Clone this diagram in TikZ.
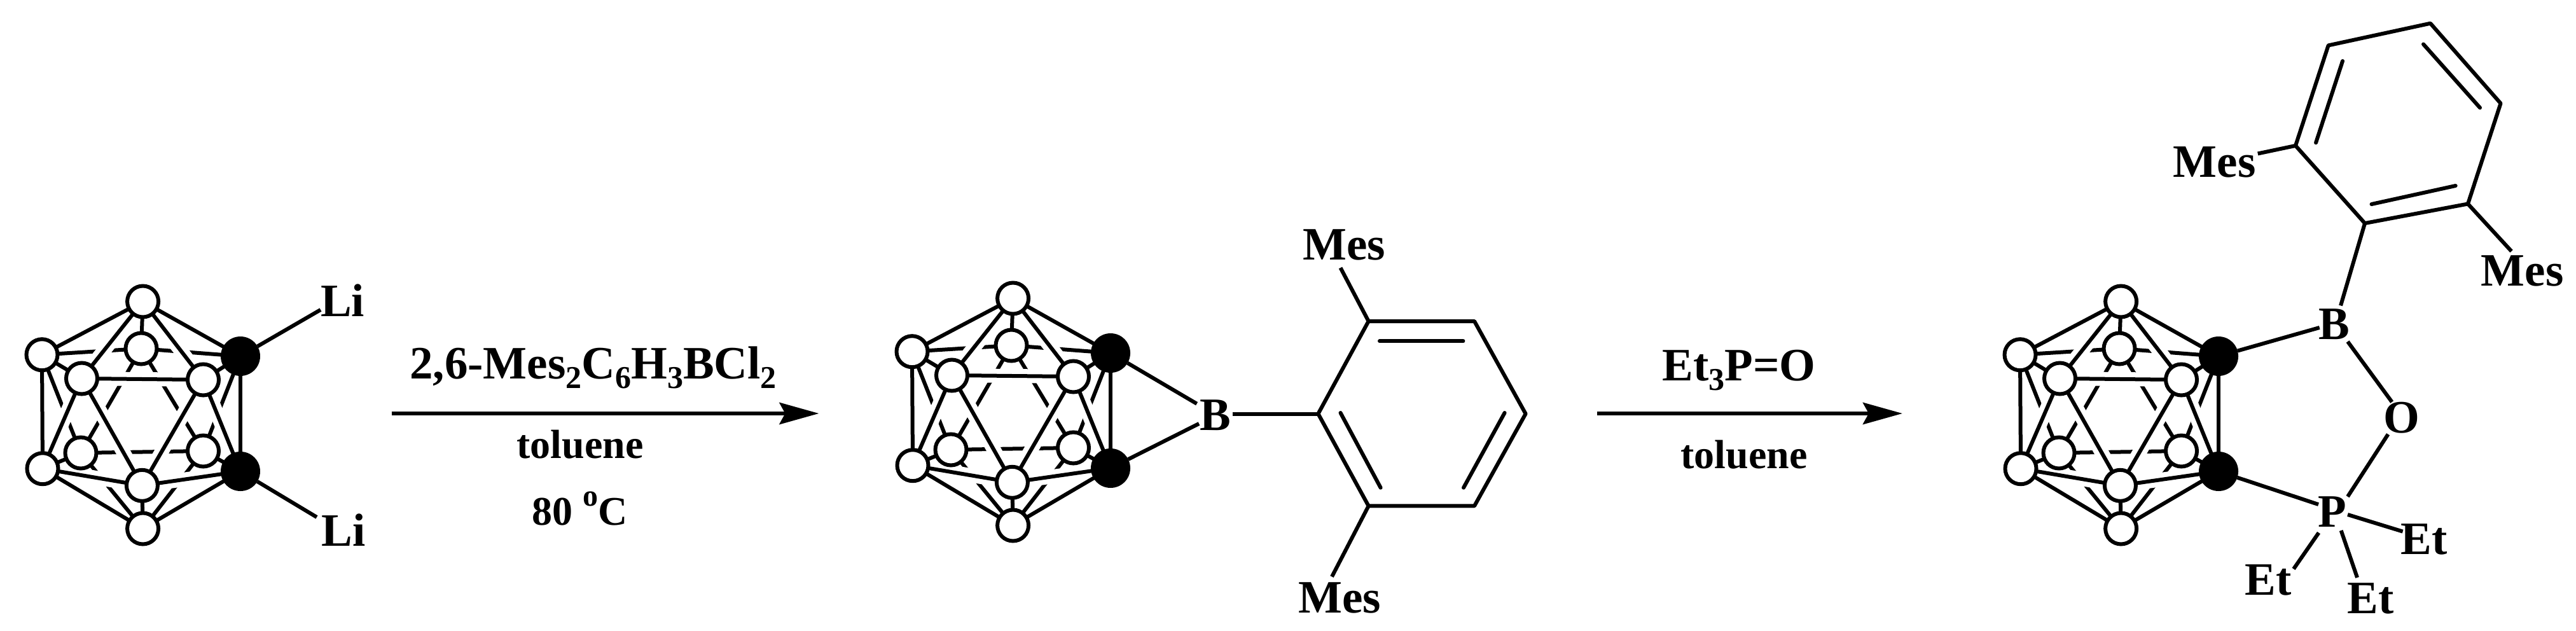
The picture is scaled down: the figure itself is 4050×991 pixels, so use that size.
\documentclass[tikz,border=0pt]{standalone}
\usepackage{fontspec}
\setmainfont{Liberation Serif}
\usetikzlibrary{arrows.meta}
\newcommand{\subnum}[1]{\raisebox{-7.5pt}{\fontsize{25}{28}\selectfont #1}}
\newcommand{\cagemol}[3]{%
\begin{scope}[shift={(#2,#3)}]
 \coordinate (#1-Tc) at (224.6,474);
 \coordinate (#1-LUc) at (66,557.7);
 \coordinate (#1-LLc) at (67,736.7);
 \coordinate (#1-Boc) at (224.6,831);
 \coordinate (#1-UBc) at (378,560);
 \coordinate (#1-LBc) at (378,741);
 \coordinate (#1-FLc) at (128.5,595);
 \coordinate (#1-FRc) at (319.5,597);
 \coordinate (#1-FBc) at (223.4,763.3);
 \coordinate (#1-BTc) at (222,548);
 \coordinate (#1-BLc) at (127,712);
 \coordinate (#1-BRc) at (319.5,709);
 % bonds at the back, cut by the halo of those in front
 \foreach \a/\b in {Tc/BTc,LUc/BTc,UBc/BTc,BTc/BLc,BTc/BRc,BLc/BRc,LUc/BLc,LLc/BLc,Boc/BLc,Boc/BRc,UBc/BRc,LBc/BRc}
   \draw[bondline] (#1-\a) -- (#1-\b);
 \foreach \a/\b in {Tc/FLc,Tc/FRc,LUc/FLc,LLc/FLc,FLc/FRc,FLc/FBc,FRc/FBc,FRc/UBc,FRc/LBc,LLc/FBc,FBc/LBc,FBc/Boc}
   \draw[bondhalo] (#1-\a) -- (#1-\b);
 \foreach \n in {BT,BL,BR}
   \node[whiteatom] (#1-\n) at (#1-\n c) {};
 \foreach \a/\b in {Tc/LUc,Tc/FLc,Tc/FRc,Tc/UBc,LUc/LLc,LUc/FLc,LLc/FLc,LLc/FBc,LLc/Boc,FLc/FRc,FLc/FBc,FRc/FBc,FRc/UBc,FRc/LBc,UBc/LBc,FBc/LBc,FBc/Boc,Boc/LBc}
   \draw[bondline] (#1-\a) -- (#1-\b);
 \foreach \n in {T,LU,LL,Bo,FL,FR,FB}
   \node[whiteatom] (#1-\n) at (#1-\n c) {};
 \node[blackatom] (#1-UB) at (#1-UBc) {};
 \node[blackatom] (#1-LB) at (#1-LBc) {};
\end{scope}}
\tikzset{
 bondline/.style={line width=3pt,line cap=butt,line join=miter,black},
 bondhalo/.style={line width=11pt,white},
 whiteatom/.style={circle,draw=black,fill=white,line width=3pt,minimum size=24.5pt,inner sep=0pt,outer sep=0pt},
 blackatom/.style={circle,fill=black,minimum size=31pt,inner sep=0pt,outer sep=0pt},
 atomlabel/.style={font=\fontsize{36.5}{40}\selectfont\bfseries,inner sep=0pt,anchor=base},
 smalllabel/.style={font=\fontsize{32}{36}\selectfont\bfseries,inner sep=0pt,anchor=base},
 rxnarrow/.style={line width=3.3pt,-{Stealth[length=31pt,width=17pt,inset=4.5pt,sep=0pt]}},
}
\begin{document}
\begin{tikzpicture}[x=0.5pt,y=-0.5pt]
\useasboundingbox (0,0) rectangle (4050,991);
% --- molecule 1
\cagemol{a}{0}{0}
\node[atomlabel] (li1) at (538.5,497) {Li};
\node[atomlabel] (li2) at (540,858) {Li};
\coordinate (li1e) at (504,487);
\coordinate (li2e) at (498,813);
\draw[bondline] (a-UB) -- (li1e);
\draw[bondline] (a-LB) -- (li2e);
% --- arrow 1
\coordinate (r1s) at (615.6,650);
\coordinate (r1e) at (1287.5,650);
\draw[rxnarrow] (r1s) -- (r1e);
\node[atomlabel] (r1top) at (932.5,595) {2,6-Mes\subnum{2}C\subnum{6}H\subnum{3}BCl\subnum{2}};
\node[smalllabel] (r1mid) at (912,720) {toluene};
\node[smalllabel] (r1low) at (912,825) {80 \raisebox{15pt}{\fontsize{24}{26}\selectfont o}C};
% --- molecule 2
\cagemol{b}{1368}{-5}
\node[atomlabel] (bB) at (1911,676) {B};
\node[atomlabel] (bMes1) at (2113,408.5) {Mes};
\node[atomlabel] (bMes2) at (2106,963) {Mes};
\coordinate (bBu) at (1881.6,634.7);
\coordinate (bBl) at (1885,666);
\coordinate (bBr) at (1937.7,650.5);
\coordinate (bm1) at (2107.5,421);
\coordinate (bm2) at (2094,906.6);
\coordinate (c1) at (2072.4,650.5);
\coordinate (c2) at (2151.6,505);
\coordinate (c3) at (2318,505);
\coordinate (c4) at (2398.6,650.5);
\coordinate (c5) at (2318,795.4);
\coordinate (c6) at (2151.6,795.4);
\draw[bondline,line join=bevel] (c1) -- (c2) -- (c3) -- (c4) -- (c5) -- (c6) -- cycle;
\coordinate (d1a) at (2169,536.3);
\coordinate (d1b) at (2300.4,536.3);
\coordinate (d2a) at (2107.5,649);
\coordinate (d2b) at (2170.6,766.7);
\coordinate (d3a) at (2365.6,649);
\coordinate (d3b) at (2301,766.7);
\draw[bondline,line cap=round] (d1a) -- (d1b);
\draw[bondline,line cap=round] (d2a) -- (d2b);
\draw[bondline,line cap=round] (d3a) -- (d3b);
\draw[bondline] (b-UB) -- (bBu);
\draw[bondline] (b-LB) -- (bBl);
\draw[bondline] (bBr) -- (c1);
\draw[bondline] (c2) -- (bm1);
\draw[bondline] (c6) -- (bm2);
% --- arrow 2
\coordinate (r2s) at (2511,650);
\coordinate (r2e) at (2991,650);
\draw[rxnarrow] (r2s) -- (r2e);
\node[atomlabel] (r2top) at (2734,598) {Et\subnum{3}P=O};
\node[smalllabel] (r2low) at (2742,736.7) {toluene};
% --- molecule 3
\cagemol{c}{3110}{0}
\node[atomlabel] (cB) at (3670,533) {B};
\node[atomlabel] (cO) at (3776,680) {O};
\node[atomlabel] (cP) at (3667,828) {P};
\node[atomlabel] (cEt1) at (3811,871) {Et};
\node[atomlabel] (cEt2) at (3566,935.5) {Et};
\node[atomlabel] (cEt3) at (3727,964) {Et};
\node[atomlabel] (cMes1) at (3481.5,278) {Mes};
\node[atomlabel] (cMes2) at (3965.5,449) {Mes};
\coordinate (e1) at (3718,351);
\coordinate (e2) at (3609,229);
\coordinate (e3) at (3660.6,71.4);
\coordinate (e4) at (3821,36.7);
\coordinate (e5) at (3931.5,162.5);
\coordinate (e6) at (3880,320.5);
\draw[bondline,line join=bevel] (e1) -- (e2) -- (e3) -- (e4) -- (e5) -- (e6) -- cycle;
\coordinate (f1a) at (3683,96);
\coordinate (f1b) at (3641,224.4);
\coordinate (f2a) at (3810,69.5);
\coordinate (f2b) at (3899,169.4);
\coordinate (f3a) at (3728.5,321);
\coordinate (f3b) at (3860.6,292);
\draw[bondline,line cap=round] (f1a) -- (f1b);
\draw[bondline,line cap=round] (f2a) -- (f2b);
\draw[bondline,line cap=round] (f3a) -- (f3b);
\coordinate (g1) at (3646.7,515);
\coordinate (g2) at (3680,480.4);
\coordinate (g3a) at (3691,537);
\coordinate (g3b) at (3760.6,632);
\coordinate (g4a) at (3754.5,682.7);
\coordinate (g4b) at (3691,780.7);
\coordinate (g5) at (3645,793);
\coordinate (g6a) at (3691,809);
\coordinate (g6b) at (3777.6,835.6);
\coordinate (g7a) at (3645.5,837.5);
\coordinate (g7b) at (3606,894.4);
\coordinate (g8a) at (3680.6,834);
\coordinate (g8b) at (3706,908);
\coordinate (g9) at (3549.7,241.5);
\coordinate (g10) at (3948.5,395);
\draw[bondline] (c-UB) -- (g1);
\draw[bondline] (g2) -- (e1);
\draw[bondline] (g3a) -- (g3b);
\draw[bondline] (g4a) -- (g4b);
\draw[bondline] (c-LB) -- (g5);
\draw[bondline] (g6a) -- (g6b);
\draw[bondline] (g7a) -- (g7b);
\draw[bondline] (g8a) -- (g8b);
\draw[bondline] (e2) -- (g9);
\draw[bondline] (e6) -- (g10);
\end{tikzpicture}
\end{document}
